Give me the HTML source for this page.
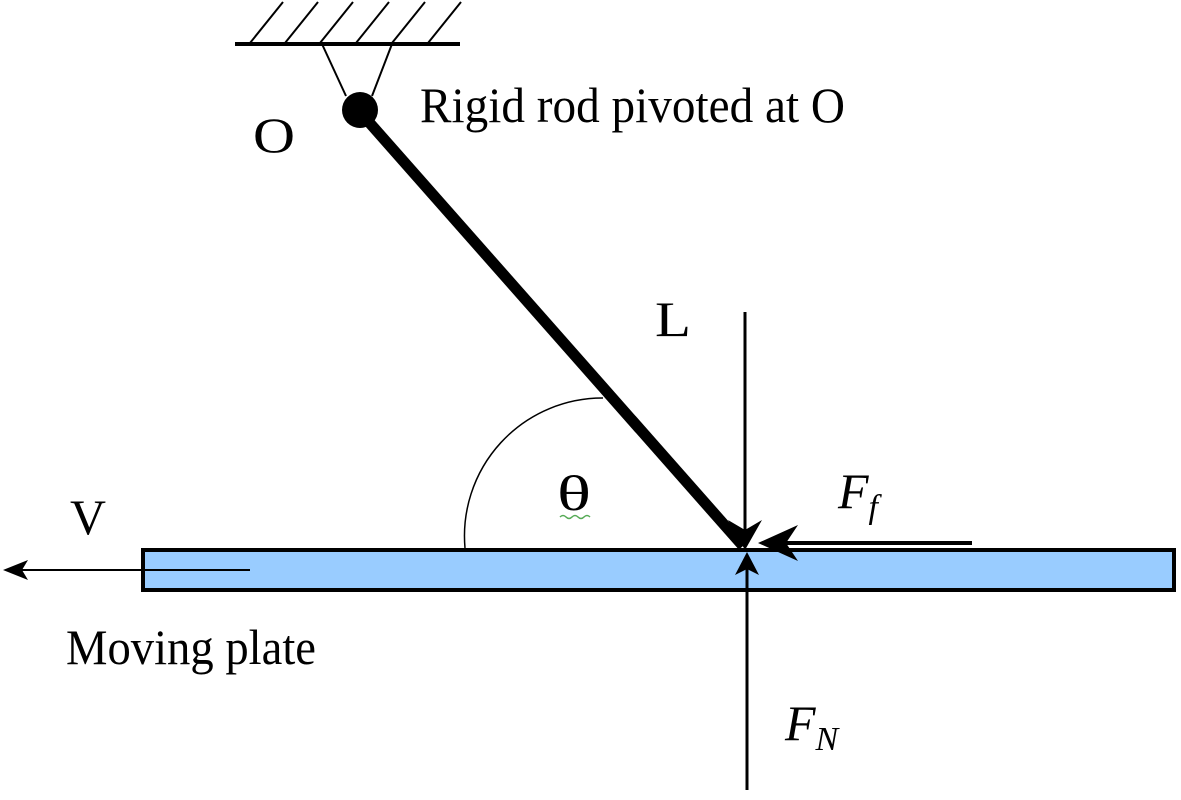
<!DOCTYPE html>
<html><head><style>body{margin:0;background:#fff}</style></head><body>
<svg width="1181" height="795" viewBox="0 0 1181 795" xmlns="http://www.w3.org/2000/svg" font-family="Liberation Serif, serif">
<rect x="143" y="550" width="1031" height="40" fill="#99ccff" stroke="#000" stroke-width="4"/>
<line x1="235" y1="44" x2="460" y2="44" stroke="#000" stroke-width="4"/>
<g stroke="#000" stroke-width="2">
<line x1="250" y1="43" x2="283" y2="2"/><line x1="285" y1="43" x2="318" y2="2"/>
<line x1="320" y1="43" x2="353" y2="2"/><line x1="356" y1="43" x2="389" y2="2"/>
<line x1="392" y1="43" x2="425" y2="2"/><line x1="428" y1="43" x2="461" y2="2"/>
<line x1="322" y1="44" x2="346" y2="96"/><line x1="392" y1="44" x2="372" y2="96"/>
</g>
<line x1="360" y1="112" x2="743" y2="546" stroke="#000" stroke-width="11"/>
<circle cx="360" cy="110" r="18" fill="#000"/>
<path d="M465 548 A138 138 0 0 1 603 398" fill="none" stroke="#000" stroke-width="1.5"/>
<line x1="745" y1="312" x2="745" y2="540" stroke="#000" stroke-width="3"/>
<path d="M745 550 L728 520 L745 530 L762 520 Z" fill="#000"/>
<line x1="770" y1="543" x2="972" y2="543" stroke="#000" stroke-width="4"/>
<path d="M758 543 L798 525 L786 543 L798 561 Z" fill="#000"/>
<line x1="747" y1="562" x2="747" y2="790" stroke="#000" stroke-width="3"/>
<path d="M747 552 L735 575 L747 569 L759 575 Z" fill="#000"/>
<line x1="20" y1="570" x2="250" y2="570" stroke="#000" stroke-width="2"/>
<path d="M3 570 L28 560 L22 570 L28 580 Z" fill="#000"/>
<g font-size="50" fill="#000">
<text x="253" y="152" textLength="42" lengthAdjust="spacingAndGlyphs">O</text>
<text x="420" y="122" textLength="425" lengthAdjust="spacingAndGlyphs">Rigid rod pivoted at O</text>
<text x="655" y="336" textLength="36" lengthAdjust="spacingAndGlyphs">L</text>
<text x="557" y="510" textLength="34" lengthAdjust="spacingAndGlyphs">θ</text>
<text x="70" y="534" textLength="36" lengthAdjust="spacingAndGlyphs">V</text>
<text x="66" y="664" textLength="250" lengthAdjust="spacingAndGlyphs">Moving plate</text>
<text x="838" y="508" font-style="italic" font-size="50">F<tspan font-size="34" dy="10">f</tspan></text>
<text x="785" y="740" font-style="italic" font-size="50">F<tspan font-size="34" dy="10">N</tspan></text>
</g>
<path d="M560 517 q3 -3 6 0 t6 0 t6 0 t6 0 t6 0" stroke="#5a5" fill="none" stroke-width="1.5"/>
</svg>
</body></html>
